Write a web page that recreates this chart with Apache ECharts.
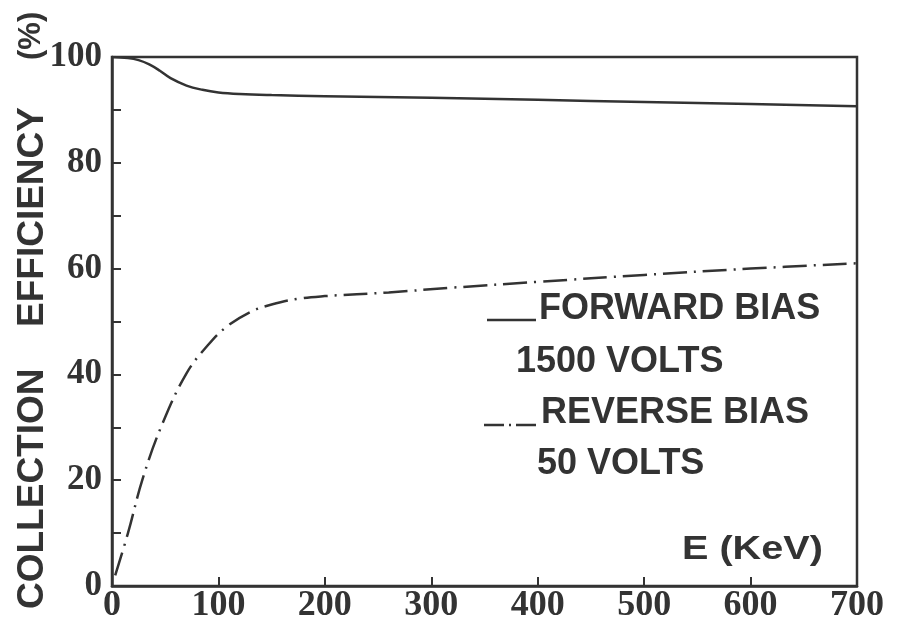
<!DOCTYPE html>
<html><head><meta charset="utf-8">
<script src="https://cdn.jsdelivr.net/npm/echarts@6/dist/echarts.min.js"></script>
<style>html,body{margin:0;padding:0;background:#fff}#c{width:904px;height:624px}</style>
</head><body><div id="c"></div>
<script>
var forwardE = [0, 15, 25, 35, 45, 55, 70, 85, 100, 120, 150, 200, 300, 400, 500, 600, 700];
var forwardEff = [100, 99.8, 99.4, 98.6, 97.4, 96.0, 94.6, 93.8, 93.3, 93.0, 92.8, 92.6, 92.3, 91.9, 91.5, 91.1, 90.7];
var reverseE = [3, 15, 29, 47, 70, 90, 107, 130, 150, 175, 200, 260, 320, 400, 500, 600, 700];
var reverseEff = [2, 10, 20.4, 30.5, 40.2, 45.5, 48.9, 51.8, 53.2, 54.3, 54.8, 55.5, 56.4, 57.5, 58.8, 60, 61];
var xTicks = [0, 100, 200, 300, 400, 500, 600, 700];
var yTicks = [0, 20, 40, 60, 80, 100];

function pairs(xs, ys){ return xs.map(function(x,i){ return [x, ys[i]]; }); }
var ink = '#333';
var sans = '"Liberation Sans"';
var chart = echarts.init(document.getElementById('c'));
chart.setOption({
  backgroundColor: '#fff',
  animation: false,
  grid: {left: 112, right: 47, top: 57, bottom: 37, show: true, borderColor: ink, borderWidth: 2.5, backgroundColor: 'transparent'},
  xAxis: {
    type: 'value', min: 0, max: 700, interval: 100,
    axisLine: {show: true, lineStyle: {color: ink, width: 2.5}},
    axisTick: {show: true, inside: true, length: 9, lineStyle: {color: ink, width: 2}},
    splitLine: {show: false},
    axisLabel: {color: ink, fontFamily: 'Liberation Serif', fontWeight: 'bold', fontSize: 36, margin: 2,
      formatter: function(v){ return xTicks.indexOf(v) >= 0 ? String(v) : ''; }}
  },
  yAxis: {
    type: 'value', min: 0, max: 100, interval: 10,
    axisLine: {show: true, lineStyle: {color: ink, width: 2.5}},
    axisTick: {show: true, inside: true, length: 9, lineStyle: {color: ink, width: 2}},
    splitLine: {show: false},
    axisLabel: {color: ink, fontFamily: 'Liberation Serif', fontWeight: 'bold', fontSize: 35, margin: 10,
      formatter: function(v){ return yTicks.indexOf(v) >= 0 ? String(v) : ''; }}
  },
  series: [
    {type: 'line', data: pairs(forwardE, forwardEff), smooth: 0.4, showSymbol: false,
     lineStyle: {color: ink, width: 2.5, type: 'solid'}},
    {type: 'line', data: pairs(reverseE, reverseEff), smooth: 0.4, showSymbol: false,
     lineStyle: {color: ink, width: 2.5, type: [24, 7, 2, 7]}}
  ],
  graphic: [
    {type: 'text', x: 33, y: 609, rotation: Math.PI/2, style: {text: 'COLLECTION', font: 'bold 37px ' + sans, fill: ink, textAlign: 'left', textVerticalAlign: 'middle'}},
    {type: 'text', x: 33, y: 327, rotation: Math.PI/2, style: {text: 'EFFICIENCY', font: 'bold 37px ' + sans, fill: ink, textAlign: 'left', textVerticalAlign: 'middle'}},
    {type: 'text', x: 31, y: 60, rotation: Math.PI/2, style: {text: '(%)', font: 'bold 31px ' + sans, fill: ink, textAlign: 'left', textVerticalAlign: 'middle'}},
    {type: 'line', shape: {x1: 487, y1: 320, x2: 536, y2: 320}, style: {stroke: ink, lineWidth: 2.5}},
    {type: 'text', x: 539, y: 309, style: {text: 'FORWARD BIAS', font: 'bold 36px ' + sans, fill: ink, textVerticalAlign: 'middle'}},
    {type: 'text', x: 516, y: 362, style: {text: '1500 VOLTS', font: 'bold 36px ' + sans, fill: ink, textVerticalAlign: 'middle'}},
    {type: 'line', shape: {x1: 484, y1: 425, x2: 538, y2: 425}, style: {stroke: ink, lineWidth: 2.5, lineDash: [20, 5, 2, 5]}},
    {type: 'text', x: 541, y: 413, style: {text: 'REVERSE BIAS', font: 'bold 36px ' + sans, fill: ink, textVerticalAlign: 'middle'}},
    {type: 'text', x: 537, y: 464, style: {text: '50 VOLTS', font: 'bold 36px ' + sans, fill: ink, textVerticalAlign: 'middle'}},
    {type: 'text', x: 682, y: 550, scaleX: 1.2, style: {text: 'E (KeV)', font: 'bold 33px ' + sans, fill: ink, textVerticalAlign: 'middle'}}
  ]
});
</script></body></html>
